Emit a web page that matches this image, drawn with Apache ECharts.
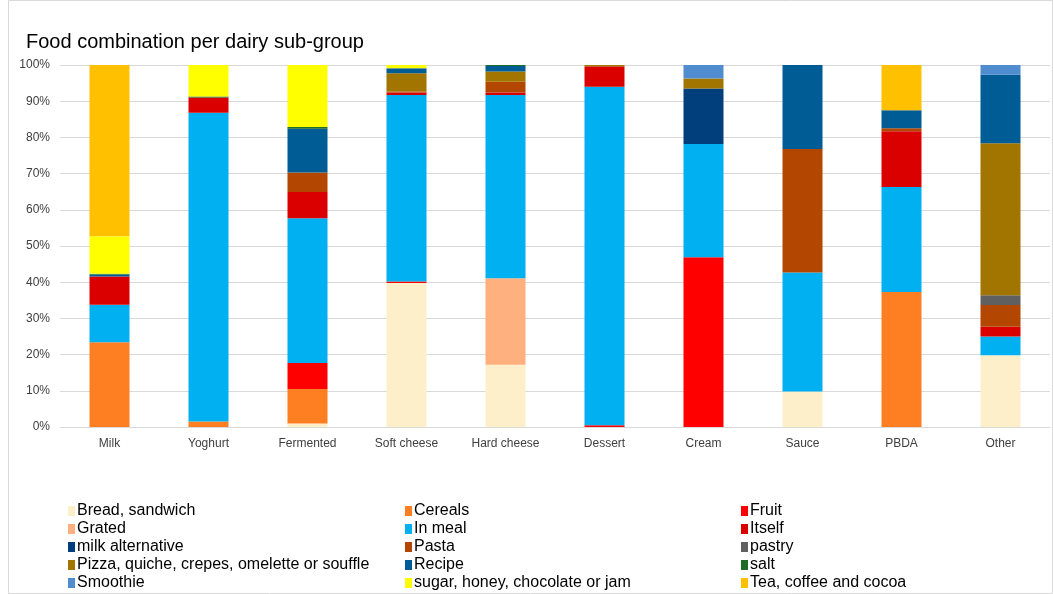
<!DOCTYPE html>
<html><head><meta charset="utf-8">
<script src="https://cdn.jsdelivr.net/npm/echarts@6/dist/echarts.min.js"></script>
<style>html,body{margin:0;padding:0;background:#fff}#c{width:1053px;height:594px}</style>
</head><body><div id="c"></div>
<script>
const categories = ["Milk","Yoghurt","Fermented","Soft cheese","Hard cheese","Dessert","Cream","Sauce","PBDA","Other"];
const seriesNames = ["Bread, sandwich","Cereals","Fruit","Grated","In meal","Itself","milk alternative","Pasta","pastry","Pizza, quiche, crepes, omelette or souffle","Recipe","salt","Smoothie","sugar, honey, chocolate or jam","Tea, coffee and cocoa"];
const bread     = [0,0,1.0,39.8,17.2,0,0,9.8,0,19.8];
const cereals   = [23.4,1.5,9.5,0,0,0,0,0,37.3,0];
const fruit     = [0,0,7.2,0.4,0,0.5,46.9,0,0,0];
const grated    = [0,0,0,0,23.9,0,0,0,0,0];
const inMeal    = [10.4,85.3,40.0,51.5,50.6,93.5,31.3,32.9,29.0,5.2];
const itself    = [7.8,4.2,7.2,0.7,0.7,5.5,0,0,15.4,2.7];
const milkAlt   = [0,0,0,0,0,0,15.3,0,0,0];
const pasta     = [0,0,5.4,0.3,3.0,0.2,0,34.1,0.8,6.0];
const pastry    = [0,0,0,0,0,0,0,0,0,2.7];
const pizza     = [0,0,0,5.0,2.8,0.3,2.8,0,0,42.0];
const recipe    = [0.5,0,12.1,1.4,1.5,0,0,23.2,5.0,18.9];
const salt      = [0.2,0.3,0.5,0,0.3,0,0,0,0,0];
const smoothie  = [0,0,0,0,0,0,3.7,0,0,2.7];
const sugar     = [10.4,8.7,17.1,0.9,0,0,0,0,0,0];
const tea       = [47.3,0,0,0,0,0,0,0,12.5,0];
const yTicks = [0,10,20,30,40,50,60,70,80,90,100];

const seriesData = [bread,cereals,fruit,grated,inMeal,itself,milkAlt,pasta,pastry,pizza,recipe,salt,smoothie,sugar,tea];
const colors = ["#FEEFCB","#FE7F22","#FF0000","#FFB07E","#00B0F0","#DB0000","#003E7C","#B34600","#606060","#A27500","#005C94","#1F6B27","#4F8CD0","#FFFF00","#FFC000"];

const chart = echarts.init(document.getElementById('c'));
const legendStyle = {
  orient:'vertical', itemWidth:7, itemHeight:10, itemGap:2, icon:'rect', height:110, padding:0,
  textStyle:{fontFamily:'Liberation Sans, Arial, sans-serif', fontSize:16, color:'#000', padding:[0,0,0,-3]},
  top:503, selectedMode:false
};
const col = i => seriesNames.filter((_,k)=>k%3===i);
chart.setOption({
  animation:false,
  color: colors,
  title:{text:'Food combination per dairy sub-group', left:21, top:27,
    textStyle:{fontFamily:'Liberation Sans, Arial, sans-serif', fontSize:20, fontWeight:'normal', color:'#000'}},
  graphic:[{type:'rect', shape:{x:8.5,y:0.5,width:1044,height:593}, style:{fill:'none', stroke:'#D9D9D9', lineWidth:1}, silent:true}],
  legend:[
    Object.assign({}, legendStyle, {left:68, data:col(0)}),
    Object.assign({}, legendStyle, {left:405, data:col(1)}),
    Object.assign({}, legendStyle, {left:741, data:col(2)})
  ],
  grid:{left:60, right:3, top:65, bottom:167},
  xAxis:{type:'category', data:categories,
    axisLine:{lineStyle:{color:'#D9D9D9', width:1}}, axisTick:{show:false},
    axisLabel:{fontFamily:'Liberation Sans, Arial, sans-serif', fontSize:12, color:'#404040', margin:11}},
  yAxis:{type:'value', min:0, max:100, interval:10,
    axisLabel:{formatter:'{value}%', fontFamily:'Liberation Sans, Arial, sans-serif', fontSize:12, color:'#404040', margin:10},
    splitLine:{lineStyle:{color:'#D9D9D9', width:1}}, axisLine:{show:false}, axisTick:{show:false}},
  series: seriesNames.map((n,i)=>({
    name:n, type:'bar', stack:'all', barWidth:40, data:seriesData[i]
  }))
});
</script></body></html>
